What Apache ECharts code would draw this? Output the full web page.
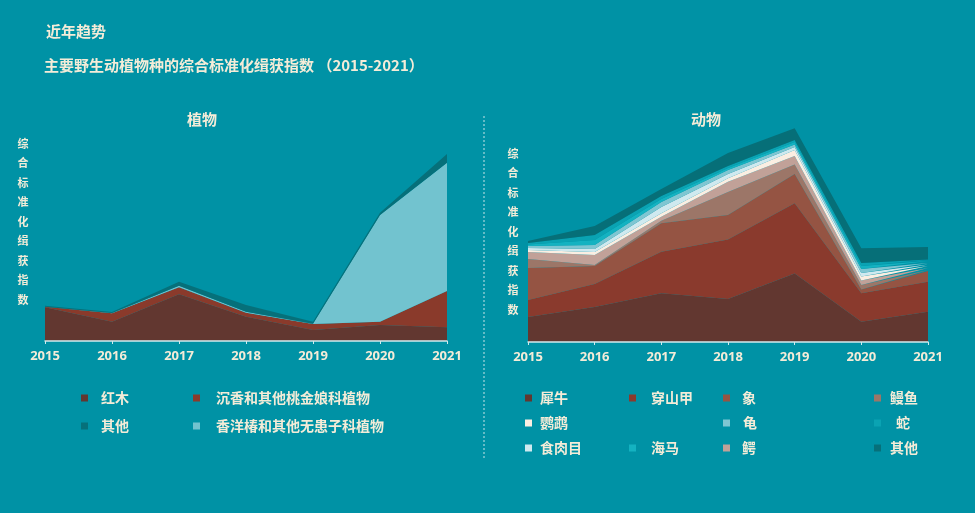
<!DOCTYPE html>
<html><head><meta charset="utf-8">
<script src="https://cdn.jsdelivr.net/npm/echarts@6/dist/echarts.min.js"></script>
<style>html,body{margin:0;padding:0;background:#0092a5;}#c{width:975px;height:513px;}</style>
</head><body><div id="c"></div>
<script>
const years = ['2015','2016','2017','2018','2019','2020','2021'];

// 植物 (stacked layers)
const plantNames = ['红木','沉香和其他桃金娘科植物','香洋椿和其他无患子科植物','其他'];
const plantRosewood = [33.7, 19.3, 46.7, 24.3, 11, 16, 13.7];
const plantAgarwood = [0.6, 8.4, 7, 4, 6, 3.3, 36.3];
const plantCedar    = [0, 0.3, 1.6, 1, 0.3, 106.7, 128.3];
const plantOther    = [1, 1, 4, 6.7, 2, 2.3, 8.7];

// 动物 (stacked layers, bottom to top)
const rhino     = [25, 35, 48.7, 43, 68.5, 20.3, 30.3];
const pangolin  = [17, 23, 41.6, 59.5, 70.2, 28.4, 30];
const elephant  = [32, 18, 28.4, 24.5, 29.3, 3.8, 10.7];
const eel       = [9, 1, 2.6, 23, 9.5, 4.5, 1];
const crocodile = [7, 10, 4, 10.3, 8.5, 4.5, 2];
const parrot    = [2, 3, 3.4, 3.4, 6, 4, 2];
const carnivore = [2, 3, 6.3, 4.3, 3, 3.5, 1.5];
const turtle    = [2, 4, 5, 4, 2.5, 4, 1.5];
const seahorse  = [1.5, 5, 3, 2, 2.5, 3, 2];
const snake     = [1.5, 5, 3, 2, 2, 3, 1.5];
const animalOther = [2, 9, 7, 13, 11.7, 14.7, 12.5];

const cream = '#f4ecd8';
const font = 'Noto Sans CJK SC';

function layer(name, data, color, idx, stack) {
  return {
    name: name, type: 'line', stack: stack, data: data,
    xAxisIndex: idx, yAxisIndex: idx,
    symbol: 'none', smooth: false,
    lineStyle: { width: 0, color: color },
    itemStyle: { color: color },
    areaStyle: { color: color, opacity: 1 },
    emphasis: { disabled: true },
    silent: true
  };
}

function leg(name, x, yc, pad) {
  return {
    data: [name], left: x, top: yc - 8, padding: 0,
    icon: 'rect', itemWidth: 7, itemHeight: 7, selectedMode: false,
    textStyle: { color: cream, fontSize: 14, fontWeight: 'bold', fontFamily: font,
                 padding: [0, 0, 0, pad] }
  };
}

function vtext(x, y) {
  return {
    type: 'text', left: x, top: y,
    style: { text: '综\n合\n标\n准\n化\n缉\n获\n指\n数', fill: cream,
             font: 'bold 11px "Noto Sans CJK SC"', lineHeight: 19.5, align: 'center' }
  };
}

const xAxisCommon = {
  type: 'category', data: years, boundaryGap: false,
  axisLine: { lineStyle: { color: '#d3ebee', width: 1.5 } },
  axisTick: { show: true, length: 3, lineStyle: { color: '#d3ebee' } },
  axisLabel: { color: cream, fontSize: 13, fontWeight: 'bold', fontFamily: 'Open Sans', margin: 9 },
  splitLine: { show: false }, z: 10
};

function ttl(text, left, top, align) {
  return { text: text, left: left, top: top, padding: 0, textAlign: align || 'left',
           textStyle: { color: cream, fontSize: 15, fontWeight: 'bold', fontFamily: font } };
}

const option = {
  backgroundColor: '#0092a5',
  animation: false,
  textStyle: { fontFamily: font },
  title: [
    ttl('近年趋势', 46, 24),
    ttl('主要野生动植物种的综合标准化缉获指数 （2015-2021）', 44, 58),
    ttl('植物', 202, 112, 'center'),
    ttl('动物', 706, 112, 'center')
  ],
  grid: [
    { left: 45, right: 528, top: 141, bottom: 172 },
    { left: 528, right: 47, top: 122, bottom: 171 }
  ],
  xAxis: [
    Object.assign({ gridIndex: 0 }, xAxisCommon),
    Object.assign({ gridIndex: 1 }, xAxisCommon)
  ],
  yAxis: [
    { type: 'value', gridIndex: 0, min: 0, max: 200, show: false },
    { type: 'value', gridIndex: 1, min: 0, max: 220, show: false }
  ],
  legend: [
    leg('红木', 81, 399, 8),
    leg('沉香和其他桃金娘科植物', 193, 399, 11),
    leg('其他', 81, 427, 8),
    leg('香洋椿和其他无患子科植物', 193, 427, 11),
    leg('犀牛', 525, 399, 3),
    leg('穿山甲', 629, 399, 10),
    leg('象', 723, 399, 7),
    leg('鳗鱼', 874, 399, 4),
    leg('鹦鹉', 525, 424, 3),
    leg('龟', 723, 424, 8),
    leg('蛇', 874, 424, 10),
    leg('食肉目', 525, 449, 3),
    leg('海马', 629, 449, 10),
    leg('鳄', 723, 449, 7),
    leg('其他', 874, 449, 4)
  ],
  graphic: [
    vtext(17.5, 134),
    vtext(507.5, 144),
    { type: 'line', shape: { x1: 484, y1: 116, x2: 484, y2: 458 },
      style: { stroke: '#c7e3e8', lineWidth: 1, lineDash: [2, 2] } }
  ],
  series: [
    layer('红木', plantRosewood, '#623730', 0, 'p'),
    layer('沉香和其他桃金娘科植物', plantAgarwood, '#8a3a2b', 0, 'p'),
    layer('香洋椿和其他无患子科植物', plantCedar, '#72c3cf', 0, 'p'),
    layer('其他', plantOther, '#06707a', 0, 'p'),
    layer('犀牛', rhino, '#623730', 1, 'a'),
    layer('穿山甲', pangolin, '#8a3a2d', 1, 'a'),
    layer('象', elephant, '#955443', 1, 'a'),
    layer('鳗鱼', eel, '#9c7668', 1, 'a'),
    layer('鳄', crocodile, '#c1a198', 1, 'a'),
    layer('鹦鹉', parrot, '#fbeee2', 1, 'a'),
    layer('食肉目', carnivore, '#cfe9ef', 1, 'a'),
    layer('龟', turtle, '#7fc6d2', 1, 'a'),
    layer('海马', seahorse, '#14b2c1', 1, 'a'),
    layer('蛇', snake, '#0aa3b3', 1, 'a'),
    layer('其他', animalOther, '#066f78', 1, 'a')
  ]
};

const chart = echarts.init(document.getElementById('c'), null, { renderer: 'canvas' });
chart.setOption(option);
</script>
</body></html>
